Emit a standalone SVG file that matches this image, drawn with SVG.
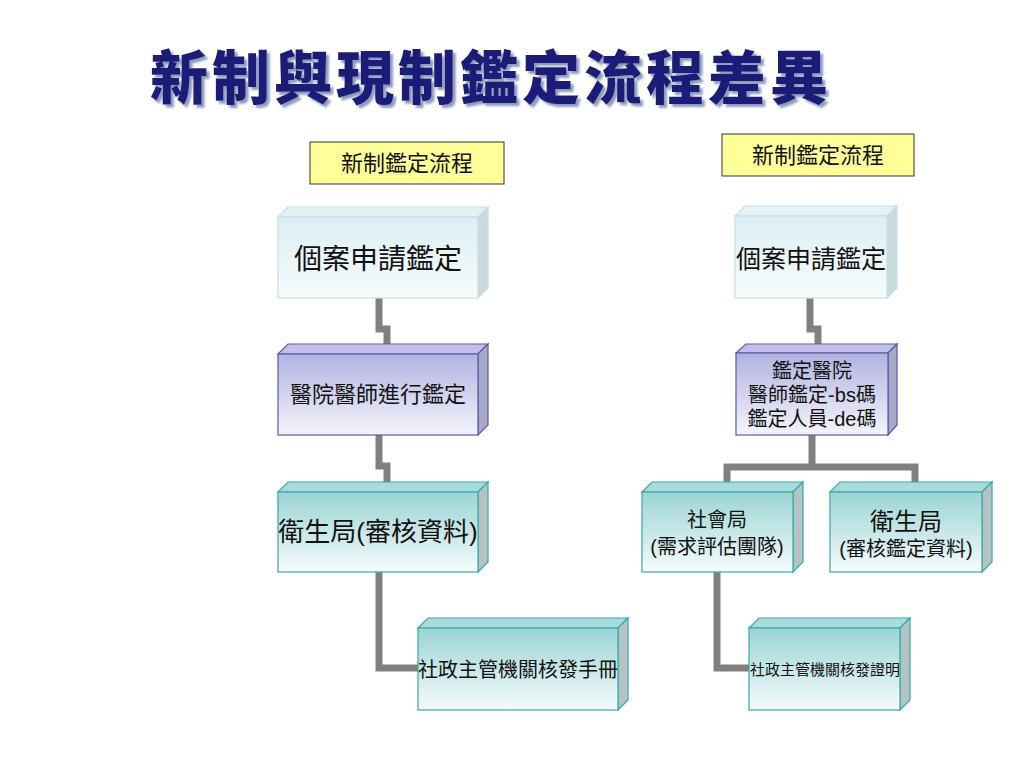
<svg xmlns="http://www.w3.org/2000/svg" width="1024" height="768" viewBox="0 0 1024 768">
<style>
.t{font-family:"Liberation Sans","Noto Sans CJK TC",sans-serif;fill:#111;text-anchor:middle}
.title{font-family:"Noto Sans CJK TC",sans-serif;font-weight:900;font-size:58px;letter-spacing:4px;fill:#1c1c78}
.lbl{fill:#ffff99;stroke:#333;stroke-width:1}
.conn{fill:none;stroke:#808080;stroke-width:7;stroke-linejoin:miter}
.pale .f{fill:url(#gPale);stroke:#c4e0e5;stroke-width:1.2}
.pale .tp{fill:#e4f2f4;stroke:#c4e0e5;stroke-width:1.2}
.pale .sd{fill:#c9d9dc;stroke:#c4e0e5;stroke-width:1.2}
.lav .f{fill:url(#gLav);stroke:#5a5aa8;stroke-width:1.2}
.lav .tp{fill:#c0c0ea;stroke:#5a5aa8;stroke-width:1.2}
.lav .sd{fill:#a8a8c8;stroke:#5a5aa8;stroke-width:1.2}
.teal .f{fill:url(#gTeal);stroke:#3aa8a8;stroke-width:1.2}
.teal .tp{fill:#a8dcdc;stroke:#3aa8a8;stroke-width:1.2}
.teal .sd{fill:#b4c4c4;stroke:#3aa8a8;stroke-width:1.2}
</style>
<defs>
<linearGradient id="gPale" x1="0" y1="0" x2="0" y2="1"><stop offset="0" stop-color="#dbeff2"/><stop offset="1" stop-color="#f7fbfc"/></linearGradient>
<linearGradient id="gLav" x1="0" y1="0" x2="0" y2="1"><stop offset="0" stop-color="#b2b2e2"/><stop offset="1" stop-color="#f4f4fb"/></linearGradient>
<linearGradient id="gTeal" x1="0" y1="0" x2="0" y2="1"><stop offset="0" stop-color="#9ad4d4"/><stop offset="1" stop-color="#f6fbfb"/></linearGradient>
<filter id="shadow" x="-5%" y="-20%" width="110%" height="140%">
<feDropShadow dx="3" dy="3" stdDeviation="1" flood-color="#8a9cc0" flood-opacity="1"/>
</filter>
</defs>
<rect width="1024" height="768" fill="#ffffff"/>

<g id="title">
<text x="150" y="99" class="title" filter="url(#shadow)">新制與現制鑑定流程差異</text>
</g>

<g id="label-left"><rect class="lbl" x="310" y="142" width="194" height="42"/><text class="t" x="407" y="171" font-size="22">新制鑑定流程</text></g>
<g id="label-right"><rect class="lbl" x="722" y="134" width="192" height="42"/><text class="t" x="818" y="163" font-size="22">新制鑑定流程</text></g>

<g id="connectors">
<path class="conn" d="M379 298 V329 H387 V344"/>
<path class="conn" d="M379 435 V466 H387 V483"/>
<path class="conn" d="M379 572 V668 H419"/>
<path class="conn" d="M810 298 V329 H818 V345"/>
<path class="conn" d="M812 435 V467"/>
<path class="conn" d="M727 483 V467 H915 V483"/>
<path class="conn" d="M717 572 V668 H749"/>
</g>

<g id="nodeA" class="pale">
<polygon class="tp" points="278,217 288,207 488,207 478,217"/>
<polygon class="sd" points="478,217 488,207 488,288 478,298"/>
<rect class="f" x="278" y="217" width="200" height="81"/>
<text class="t" x="378" y="269" font-size="28">個案申請鑑定</text>
</g>
<g id="nodeB" class="lav">
<polygon class="tp" points="278,354 288,344 488,344 478,354"/>
<polygon class="sd" points="478,354 488,344 488,425 478,435"/>
<rect class="f" x="278" y="354" width="200" height="81"/>
<text class="t" x="378" y="402" font-size="22">醫院醫師進行鑑定</text>
</g>
<g id="nodeC" class="teal">
<polygon class="tp" points="278,492 288,482 488,482 478,492"/>
<polygon class="sd" points="478,492 488,482 488,562 478,572"/>
<rect class="f" x="278" y="492" width="200" height="80"/>
<text class="t" x="378" y="541" font-size="26">衛生局(審核資料)</text>
</g>
<g id="nodeD" class="teal">
<polygon class="tp" points="418,628 428,618 628,618 618,628"/>
<polygon class="sd" points="618,628 628,618 628,700 618,710"/>
<rect class="f" x="418" y="628" width="200" height="82"/>
<text class="t" x="518" y="677" font-size="20">社政主管機關核發手冊</text>
</g>

<g id="nodeE" class="pale">
<polygon class="tp" points="735,216 745,206 897,206 887,216"/>
<polygon class="sd" points="887,216 897,206 897,288 887,298"/>
<rect class="f" x="735" y="216" width="152" height="82"/>
<text class="t" x="811" y="268" font-size="25">個案申請鑑定</text>
</g>
<g id="nodeF" class="lav">
<polygon class="tp" points="736,353 746,344 897,344 888,353"/>
<polygon class="sd" points="888,353 897,344 897,425 888,435"/>
<rect class="f" x="736" y="353" width="152" height="82"/>
<text class="t" x="812" y="378" font-size="20">鑑定醫院</text>
<text class="t" x="812" y="402" font-size="20">醫師鑑定-bs碼</text>
<text class="t" x="812" y="426" font-size="20">鑑定人員-de碼</text>
</g>
<g id="nodeG" class="teal">
<polygon class="tp" points="642,492 652,482 803,482 793,492"/>
<polygon class="sd" points="793,492 803,482 803,562 793,572"/>
<rect class="f" x="642" y="492" width="151" height="80"/>
<text class="t" x="717" y="527" font-size="20">社會局</text>
<text class="t" x="717" y="554" font-size="20">(需求評估團隊)</text>
</g>
<g id="nodeH" class="teal">
<polygon class="tp" points="830,492 840,482 992,482 982,492"/>
<polygon class="sd" points="982,492 992,482 992,562 982,572"/>
<rect class="f" x="830" y="492" width="152" height="80"/>
<text class="t" x="906" y="530" font-size="24">衛生局</text>
<text class="t" x="906" y="556" font-size="20">(審核鑑定資料)</text>
</g>
<g id="nodeI" class="teal">
<polygon class="tp" points="749,628 759,618 910,618 900,628"/>
<polygon class="sd" points="900,628 910,618 910,700 900,710"/>
<rect class="f" x="749" y="628" width="151" height="82"/>
<text class="t" x="825" y="675" font-size="15">社政主管機關核發證明</text>
</g>
</svg>
